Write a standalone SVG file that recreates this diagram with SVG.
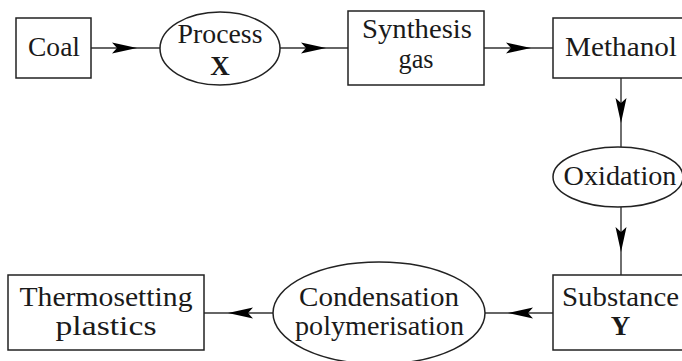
<svg xmlns="http://www.w3.org/2000/svg" width="682" height="361" viewBox="0 0 682 361">
<style>
.shape{fill:#fff;stroke:#222;stroke-width:1.5}
.edge{fill:none;stroke:#333;stroke-width:1.4;marker-mid:url(#ah)}
text{font-family:"Liberation Serif","Times New Roman",serif;font-size:27px;fill:#1a1a1a;text-anchor:middle}
.b{font-weight:bold}
</style>
<defs>
<marker id="ah" markerUnits="userSpaceOnUse" viewBox="0 0 26 14" markerWidth="26" markerHeight="14" refX="25" refY="7" orient="auto">
<path d="M0,1.5 L25,7 L0,12.5 L5,7 Z" fill="#000"/>
</marker>
</defs>
<rect width="682" height="361" fill="#fff"/>
<g id="connectors">
<path class="edge" d="M91,48 L137,48 L160,48"/>
<path class="edge" d="M280,48 L326,48 L348,48"/>
<path class="edge" d="M484,48 L531,48 L553,48"/>
<path class="edge" d="M621,78 L621,123 L621,147"/>
<path class="edge" d="M621,207 L621,252 L621,275"/>
<path class="edge" d="M553,313 L508,313 L485,313"/>
<path class="edge" d="M273,313 L228,313 L204,313"/>
</g>
<g id="coal">
<rect class="shape" x="16" y="18" width="75" height="60"/>
<text x="54" y="56" textLength="52" lengthAdjust="spacingAndGlyphs">Coal</text>
</g>
<g id="process-x">
<ellipse class="shape" cx="220" cy="48.5" rx="60" ry="36.5"/>
<text x="220" y="43" textLength="85" lengthAdjust="spacingAndGlyphs">Process</text>
<text class="b" x="220" y="75">X</text>
</g>
<g id="synthesis-gas">
<rect class="shape" x="348" y="11" width="136" height="74"/>
<text x="417" y="38" textLength="110" lengthAdjust="spacingAndGlyphs">Synthesis</text>
<text x="416" y="68" textLength="35" lengthAdjust="spacingAndGlyphs">gas</text>
</g>
<g id="methanol">
<rect class="shape" x="553" y="18" width="140" height="60"/>
<text x="621" y="56" textLength="112" lengthAdjust="spacingAndGlyphs">Methanol</text>
</g>
<g id="oxidation">
<ellipse class="shape" cx="618" cy="177" rx="65" ry="30"/>
<text x="620" y="185" textLength="113" lengthAdjust="spacingAndGlyphs">Oxidation</text>
</g>
<g id="substance-y">
<rect class="shape" x="553" y="275" width="140" height="75"/>
<text x="620.5" y="306" textLength="117" lengthAdjust="spacingAndGlyphs">Substance</text>
<text class="b" x="620.5" y="335">Y</text>
</g>
<g id="condensation-polymerisation">
<ellipse class="shape" cx="379" cy="313" rx="106" ry="51"/>
<text x="379" y="306" textLength="160" lengthAdjust="spacingAndGlyphs">Condensation</text>
<text x="379.5" y="335" textLength="169" lengthAdjust="spacingAndGlyphs">polymerisation</text>
</g>
<g id="thermosetting-plastics">
<rect class="shape" x="8" y="275" width="196" height="75"/>
<text x="106" y="306" textLength="173" lengthAdjust="spacingAndGlyphs">Thermosetting</text>
<text x="106" y="335" textLength="101" lengthAdjust="spacingAndGlyphs">plastics</text>
</g>
</svg>
